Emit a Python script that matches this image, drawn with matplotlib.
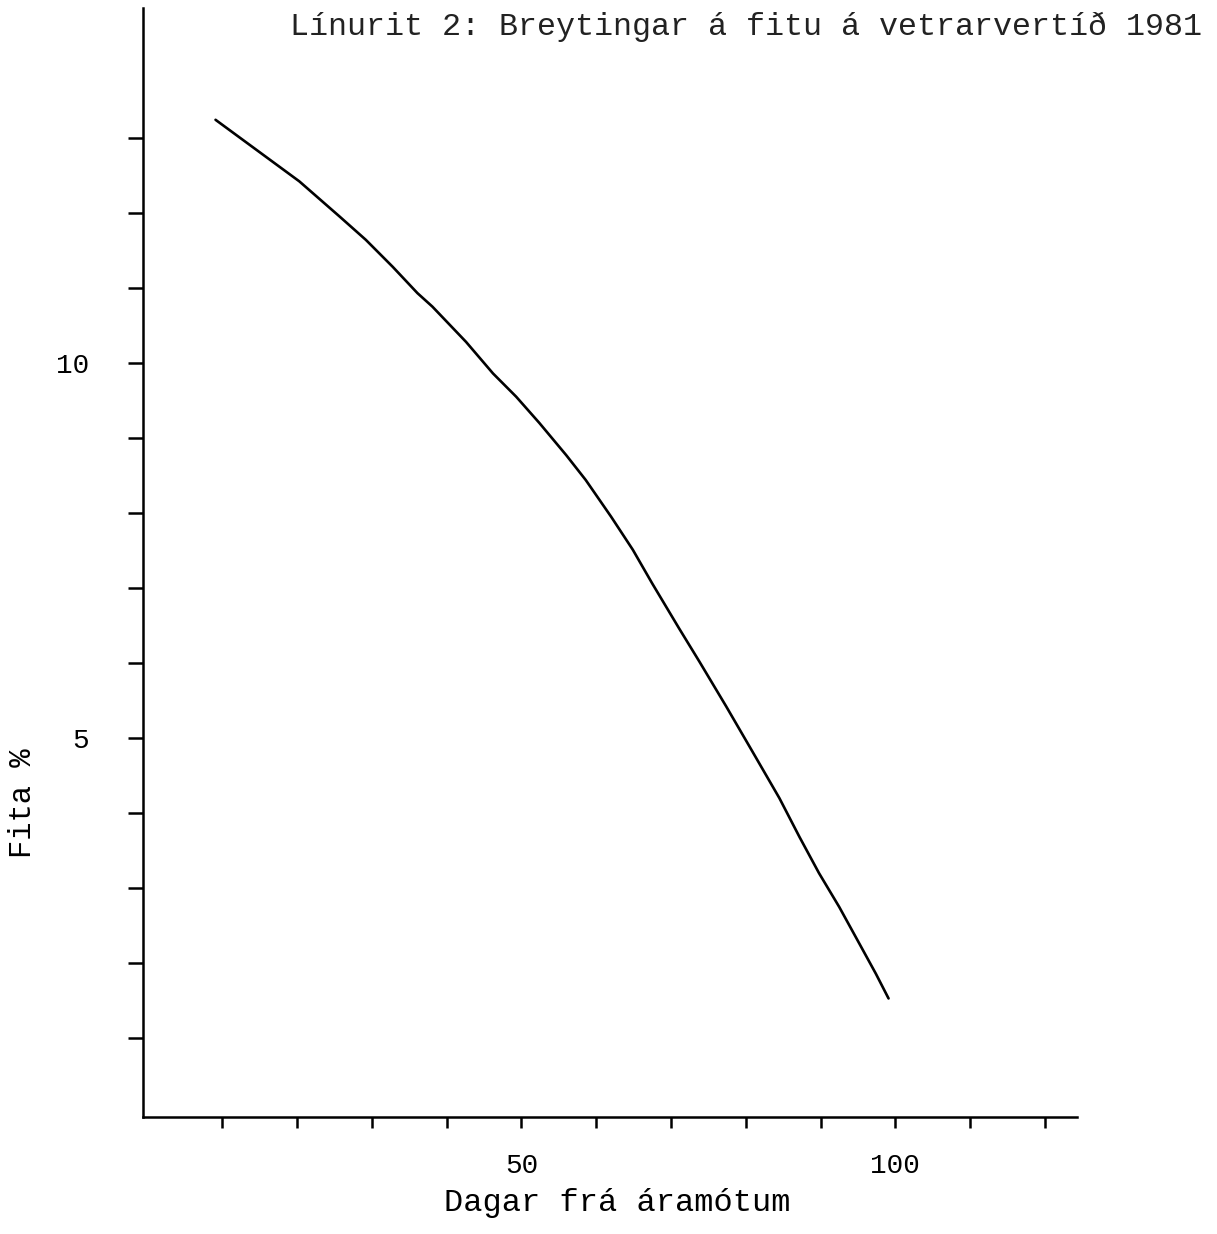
import matplotlib

matplotlib.use("Agg")
import matplotlib.pyplot as plt  # noqa: E402
from matplotlib.ticker import FixedLocator, FixedFormatter  # noqa: E402

# fat content (%) vs. days since new year, winter season 1981
days = [9.1, 14.7, 20.3, 25.7, 29.2, 32.8, 36.1, 38.1, 42.6, 46.2, 49.3, 52.4,
        56.0, 58.6, 62.0, 64.9, 67.5, 71.1, 73.8, 77.4, 80.9, 84.5, 87.2, 89.8,
        92.5, 95.2, 97.4, 99.1]
fat_pct = [13.24, 12.83, 12.42, 11.95, 11.64, 11.28, 10.93, 10.75, 10.28, 9.86,
           9.55, 9.20, 8.77, 8.44, 7.95, 7.51, 7.06, 6.46, 6.02, 5.42, 4.82, 4.20,
           3.68, 3.20, 2.75, 2.26, 1.86, 1.53]

x_ticks = list(range(10, 130, 10))
x_labels = ["" if t not in (50, 100) else str(t) for t in x_ticks]
y_ticks = list(range(1, 14))
y_labels = ["" if t not in (5, 10) else str(t) for t in y_ticks]

title = "Línurit 2: Breytingar á fitu á vetrarvertíð 1981"
xlabel = "Dagar frá áramótum"
ylabel = "Fita %"

plt.rcParams["font.family"] = ["Liberation Mono", "DejaVu Sans Mono"]

W, H = 1217, 1234
fig = plt.figure(figsize=(W / 100, H / 100), dpi=100)
ax = fig.add_axes([143 / W, 1 - 1117 / H, (1077 - 143) / W, (1117 - 8) / H])

ax.plot(days, fat_pct, color="black", lw=1.9, solid_capstyle="round",
        solid_joinstyle="round")

ax.set_xlim(-0.6, 124.3)
ax.set_ylim(-0.05, 14.73)
for side in ("top", "right"):
    ax.spines[side].set_visible(False)
for side in ("left", "bottom"):
    ax.spines[side].set_linewidth(1.8)

ax.xaxis.set_major_locator(FixedLocator(x_ticks))
ax.xaxis.set_major_formatter(FixedFormatter(x_labels))
ax.yaxis.set_major_locator(FixedLocator(y_ticks))
ax.yaxis.set_major_formatter(FixedFormatter(y_labels))
ax.tick_params(axis="x", direction="out", length=8, width=1.8, pad=18, labelsize=20)
ax.tick_params(axis="y", direction="out", length=11, width=1.8, pad=28, labelsize=20)

fig.text(290 / W, 1 - 27 / H, title, ha="left", va="center", fontsize=22.9, color="#222222")
fig.text(617 / W, 1 - 1203 / H, xlabel, ha="center", va="center", fontsize=23)
fig.text(23 / W, 1 - 803 / H, ylabel, ha="center", va="center", rotation=90, fontsize=22)

fig.savefig("out.png", dpi=100)
